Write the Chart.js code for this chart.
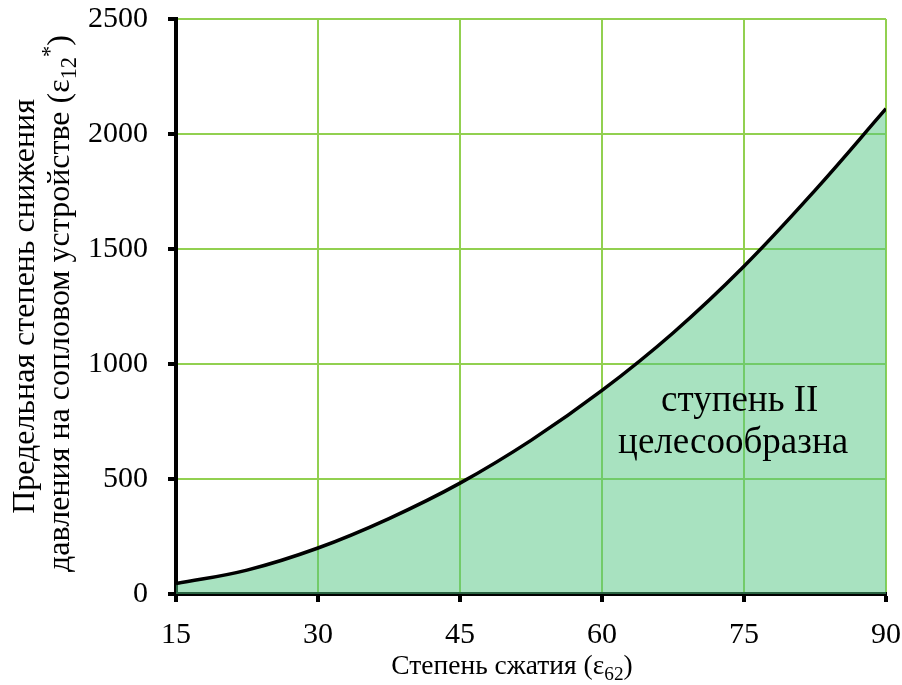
<!DOCTYPE html>
<html>
<head>
<meta charset="utf-8">
<script src="https://cdn.jsdelivr.net/npm/chart.js@4"></script>
<style>
  html, body { margin: 0; padding: 0; background: #fff; }
  #wrap { width: 902px; height: 685px; }
</style>
</head>
<body>
<div id="wrap"><canvas id="chart" width="902" height="685"></canvas></div>
<script>
// compression ratio (eps62) and limit pressure ratio (eps12*)
const compression = [15, 22.5, 30, 37.5, 45, 52.5, 60, 67.5, 75, 82.5, 90];
const limitRatio = [45, 104, 200, 328, 482, 668, 885, 1135, 1425, 1755, 2110];
const xTicks = [15, 30, 45, 60, 75, 90];
const yTicks = [0, 500, 1000, 1500, 2000, 2500];

const FONT = '"Liberation Serif", "Times New Roman", serif';

// draw a line of text with sub/superscript parts, centred at x
function richText(ctx, parts, x, y, size) {
    let w = 0;
    parts.forEach(p => {
        ctx.font = (p.s ? size * 0.7 : size) + 'px ' + FONT;
        w += ctx.measureText(p.t).width;
    });
    let cx = x - w / 2;
    parts.forEach(p => {
        const fs = p.s ? size * 0.7 : size;
        ctx.font = fs + 'px ' + FONT;
        let dy = 0;
        if (p.s === 'sub') dy = size * 0.22;
        if (p.s === 'sup') dy = -size * 0.38;
        ctx.fillText(p.t, cx, y + dy);
        cx += ctx.measureText(p.t).width;
    });
}

const titles = {
    id: 'titles',
    afterDraw(chart) {
        const ctx = chart.ctx;
        const xs = chart.scales.x, ys = chart.scales.y;
        ctx.save();
        ctx.fillStyle = '#000';
        ctx.textBaseline = 'alphabetic';
        ctx.textAlign = 'left';

        // x axis title
        richText(ctx, [
            { t: 'Степень сжатия (ε' },
            { t: '62', s: 'sub' },
            { t: ')' }
        ], 512, 674, 27.5);

        // y axis title (rotated, two lines)
        const midY = (chart.chartArea.top + chart.chartArea.bottom) / 2;
        ctx.translate(0, midY);
        ctx.rotate(-Math.PI / 2);
        richText(ctx, [{ t: 'Предельная степень снижения' }], 0, 34, 32);
        richText(ctx, [
            { t: 'давления на сопловом устройстве (ε' },
            { t: '12', s: 'sub' },
            { t: '*', s: 'sup' },
            { t: ')' }
        ], 3, 69, 32);
        ctx.restore();

        // annotation inside the filled area
        ctx.save();
        ctx.fillStyle = '#000';
        ctx.textAlign = 'center';
        ctx.textBaseline = 'alphabetic';
        ctx.font = '37px ' + FONT;
        ctx.fillText('ступень II', xs.getPixelForValue(74.55), ys.getPixelForValue(794));
        ctx.fillText('целесообразна', xs.getPixelForValue(73.85), ys.getPixelForValue(612));
        ctx.restore();
    }
};

const ctx = document.getElementById('chart').getContext('2d');
const chart = new Chart(ctx, {
    type: 'line',
    data: {
        datasets: [{
            data: compression.map((x, i) => ({ x: x, y: limitRatio[i] })),
            borderColor: '#000',
            borderWidth: 3.5,
            backgroundColor: 'rgba(81, 197, 129, 0.5)',
            fill: 'origin',
            pointRadius: 0,
            tension: 0.4
        }]
    },
    options: {
        responsive: false,
        animation: false,
        layout: { padding: { left: 0, right: 16, top: 19, bottom: 0 } },
        plugins: {
            legend: { display: false },
            tooltip: { enabled: false }
        },
        scales: {
            x: {
                type: 'linear',
                min: 15,
                max: 90,
                afterBuildTicks: s => { s.ticks = xTicks.map(v => ({ value: v })); },
                afterFit: s => { s.height = 91; s.paddingLeft = 0; s.paddingRight = 0; },
                grid: { color: '#92d050', lineWidth: 2, tickColor: '#000', tickLength: 8, tickWidth: 4 },
                border: { color: '#000', width: 4 },
                ticks: { color: '#000', font: { family: FONT, size: 30 }, padding: 15, maxRotation: 0,
                         callback: v => String(v) }
            },
            y: {
                min: 0,
                max: 2500,
                afterBuildTicks: s => { s.ticks = yTicks.map(v => ({ value: v })); },
                afterFit: s => { s.width = 176; s.paddingTop = 0; s.paddingBottom = 0; },
                grid: { color: '#92d050', lineWidth: 2, tickColor: '#000', tickLength: 8, tickWidth: 4 },
                border: { color: '#000', width: 4 },
                ticks: { color: '#000', font: { family: FONT, size: 30 }, padding: 20,
                         callback: v => String(v) }
            }
        }
    },
    plugins: [titles]
});
</script>
</body>
</html>
